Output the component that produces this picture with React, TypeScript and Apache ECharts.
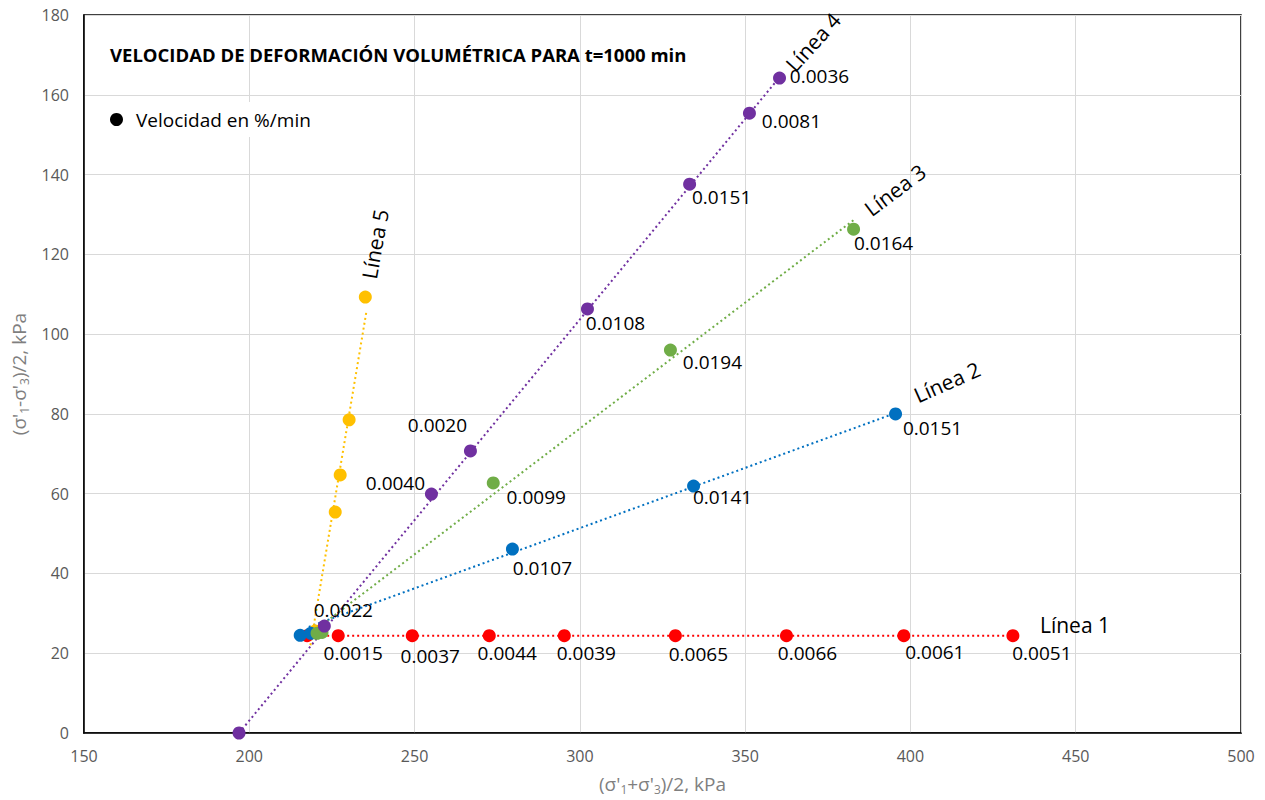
import React, { useEffect, useRef } from "react";
import * as echarts from "echarts";

// ---- data ----
const linea1X = [217.5, 226.9, 249.3, 272.6, 295.3, 328.9, 362.5, 398.0, 431.0];
const linea1Y = [24.4, 24.4, 24.4, 24.4, 24.4, 24.4, 24.4, 24.4, 24.4];
const linea1Vel = [null, "0.0015", "0.0037", "0.0044", "0.0039", "0.0065", "0.0066", "0.0061", "0.0051"];

const linea2X = [215.4, 218.6, 279.6, 334.4, 395.5];
const linea2Y = [24.5, 25.0, 46.1, 61.9, 80.0];
const linea2Vel = [null, null, "0.0107", "0.0141", "0.0151"];

const linea3X = [220.5, 222.0, 273.8, 327.4, 382.8];
const linea3Y = [25.0, 25.2, 62.7, 96.0, 126.3];
const linea3Vel = [null, null, "0.0099", "0.0194", "0.0164"];

const linea4X = [196.9, 222.7, 255.1, 266.9, 302.3, 333.2, 351.3, 360.4];
const linea4Y = [0, 26.8, 59.9, 70.7, 106.3, 137.6, 155.4, 164.2];
const linea4Vel = [null, "0.0022", "0.0040", "0.0020", "0.0108", "0.0151", "0.0081", "0.0036"];

const linea5X = [220.0, 226.0, 227.5, 230.2, 235.1];
const linea5Y = [25.6, 55.4, 64.7, 78.5, 109.3];

// trend line endpoints [x, y]
const trend1 = [[216, 24.4], [431, 24.4]];
const trend2 = [[218, 26.6], [395.5, 80.2]];
const trend3 = [[221, 26.5], [383, 128.7]];
const trend4 = [[196.9, 0], [360.5, 164.5]];
const trend5 = [[218.5, 22], [235.4, 105.5]];

const lineNames = ["Línea 1", "Línea 2", "Línea 3", "Línea 4", "Línea 5"];
const titleText = "VELOCIDAD DE DEFORMACIÓN VOLUMÉTRICA PARA t=1000 min";
const legendName = "Velocidad en %/min";

// ---- label offsets (px, styling only) ----
const off1 = [null, [15, 17], [18, 20], [18, 17], [22, 17], [23, 18], [21, 17], [31, 16], [29, 17]];
const off2 = [null, null, [30, 19], [29, 11], [37, 14]];
const off3 = [null, null, [43, 14], [42, 12], [30, 14]];
const off4 = [null, [19, -16], [-36, -11], [-33, -26], [28, 14], [32, 13], [42, 8], [40, -2]];

const COLORS = ["#ff0000", "#0070c0", "#70ad47", "#7030a0", "#ffc000"];
const FONT = "'Open Sans', 'Noto Sans', sans-serif";

function buildPoints(xs: number[], ys: number[], vel?: (string | null)[], offs?: any[]) {
  return xs.map((x, i) => {
    const v = vel ? vel[i] : null;
    const item: any = { value: [x, ys[i]] };
    if (v) {
      item.label = {
        show: true,
        formatter: v,
        position: "inside",
        color: "#000",
        fontSize: 19,
        fontFamily: FONT,
        align: "center",
        verticalAlign: "middle",
        offset: offs && offs[i] ? offs[i] : [20, 16],
      };
    }
    return item;
  });
}

export default function App() {
  const ref = useRef<HTMLDivElement>(null);
  useEffect(() => {
    document.body.style.margin = "0";
    const chart = echarts.init(ref.current!, null, { renderer: "svg" });
    const trends = [trend1, trend2, trend3, trend4, trend5];
    const lineSeries = trends.map((t, i) => ({
      type: "line",
      name: lineNames[i],
      data: t,
      symbol: "none",
      z: 1,
      lineStyle: { color: COLORS[i], width: 2, type: [2, 3] },
      silent: true,
    }));
    const scatterBase = {
      type: "scatter",
      symbolSize: 13,
      z: 3,
      label: { show: false },
    };
    const st = (c: string) => ({ color: c, opacity: 1 });
    const scatterSeries = [
      { ...scatterBase, name: "p1", itemStyle: st(COLORS[0]), data: buildPoints(linea1X, linea1Y, linea1Vel, off1) },
      { ...scatterBase, name: "p5", itemStyle: st(COLORS[4]), data: buildPoints(linea5X, linea5Y) },
      { ...scatterBase, name: "p2", itemStyle: st(COLORS[1]), data: buildPoints(linea2X, linea2Y, linea2Vel, off2) },
      { ...scatterBase, name: "p3", itemStyle: st(COLORS[2]), data: buildPoints(linea3X, linea3Y, linea3Vel, off3) },
      { ...scatterBase, name: "p4", itemStyle: st(COLORS[3]), data: buildPoints(linea4X, linea4Y, linea4Vel, off4) },
      { type: "scatter", name: legendName, data: [], itemStyle: { color: "#000", opacity: 1 } },
    ];
    const lineLabel = (text: string, x: number, y: number, deg: number) => ({
      type: "text",
      x,
      y,
      rotation: (deg * Math.PI) / 180,
      z: 10,
      style: {
        text,
        fill: "#000",
        font: `21px ${FONT}`,
        align: "center",
        verticalAlign: "middle",
      },
    });
    chart.setOption({
      animation: false,
      backgroundColor: "#fff",
      textStyle: { fontFamily: FONT },
      title: {
        text: titleText,
        left: 105,
        top: 40,
        textStyle: { fontFamily: FONT, fontSize: 18.5, fontWeight: "bold", color: "#000" },
      },
      legend: {
        data: [{ name: legendName, icon: "circle" }],
        left: 102,
        top: 102,
        backgroundColor: "#fff",
        padding: [8, 24, 8, 8],
        itemWidth: 13,
        itemHeight: 13,
        itemGap: 8,
        textStyle: { fontFamily: FONT, fontSize: 19, color: "#000", padding: [0, 0, 0, 8] },
      },
      grid: {
        left: 84,
        right: 24,
        top: 15,
        bottom: 67,
        show: true,
        borderColor: "#000",
        borderWidth: 1.5,
      },
      xAxis: {
        type: "value",
        min: 150,
        max: 500,
        interval: 50,
        name: "(σ'{s|1}+σ'{s|3})/2, kPa",
        nameLocation: "middle",
        nameGap: 40,
        nameTextStyle: {
          color: "#7f7f7f",
          fontSize: 19,
          fontFamily: FONT,
          rich: { s: { fontSize: 12, color: "#7f7f7f", fontFamily: FONT, padding: [10, 0, 0, 0] } },
        },
        axisLine: { show: true, lineStyle: { color: "#000", width: 1.5 } },
        axisTick: { show: false },
        axisLabel: { color: "#595959", fontSize: 16, margin: 15, fontFamily: FONT },
        splitLine: { show: true, lineStyle: { color: "#d9d9d9", width: 1 } },
      },
      yAxis: {
        type: "value",
        min: 0,
        max: 180,
        interval: 20,
        name: "(σ'{s|1}-σ'{s|3})/2, kPa",
        nameLocation: "middle",
        nameGap: 54,
        nameTextStyle: {
          color: "#7f7f7f",
          fontSize: 19,
          fontFamily: FONT,
          rich: { s: { fontSize: 12, color: "#7f7f7f", fontFamily: FONT, padding: [10, 0, 0, 0] } },
        },
        axisLine: { show: true, lineStyle: { color: "#000", width: 1.5 } },
        axisTick: { show: false },
        axisLabel: { color: "#595959", fontSize: 16, margin: 15, fontFamily: FONT },
        splitLine: { show: true, lineStyle: { color: "#d9d9d9", width: 1 } },
      },
      graphic: [
        lineLabel(lineNames[0], 1075, 625, 0),
        lineLabel(lineNames[1], 947, 382, 24),
        lineLabel(lineNames[2], 895, 190, 37),
        lineLabel(lineNames[3], 813, 42, 48),
        lineLabel(lineNames[4], 375, 244, 80),
      ],
      series: [...lineSeries, ...scatterSeries],
    });
    return () => chart.dispose();
  }, []);
  return <div ref={ref} style={{ width: 1265, height: 800 }} />;
}
